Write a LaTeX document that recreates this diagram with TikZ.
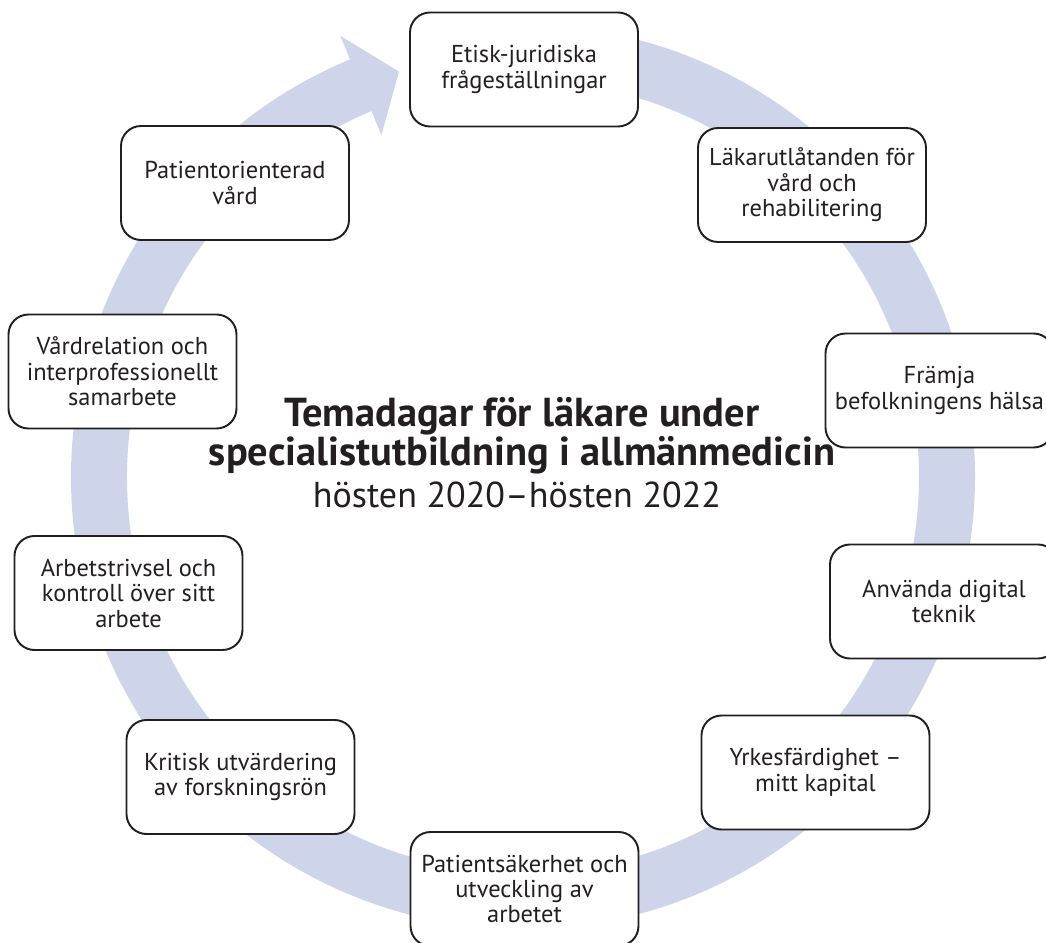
\documentclass[tikz,border=0pt]{standalone}
\usepackage{fontspec}
\setmainfont{PT Sans}
\definecolor{ringblue}{RGB}{206,213,234}
\definecolor{inkgray}{RGB}{35,31,32}

\begin{document}
\begin{tikzpicture}[
        tema/.style={draw=inkgray,line width=1.1pt,fill=white,rounded corners=0.4cm,
            minimum width=4.56cm,minimum height=2.28cm,inner sep=0pt,align=center,
            text=inkgray,font=\fontsize{13.9}{14.5}\selectfont}
    ]
        \useasboundingbox(-10.46,-9.3)rectangle(10.46,9.54);

        \draw[ringblue,line width=1.12cm](85:8.48)arc[start angle=85,end angle=-248,radius=8.48];
        \fill[ringblue](112.5:9.55)--(107:8.48)--(112.5:7.4)--cycle;

        \node[tema](etik)at(0.02,8.15){Etisk-juridiska\\frågeställningar};
        \node[tema](intyg)at(5.78,5.84){Läkarutlåtanden för\\vård och\\rehabilitering};
        \node[tema](halsa)at(8.33,1.73){Främja\\befolkningens hälsa};
        \node[tema](digital)at(8.42,-2.49){Använda digital\\teknik};
        \node[tema](yrke)at(5.85,-5.91){Yrkesfärdighet –\\mitt kapital};
        \node[tema](sakerhet)at(0.03,-8.24){Patientsäkerhet och\\utveckling av\\arbetet};
        \node[tema](kritisk)at(-5.65,-6.0){Kritisk utvärdering\\av forskningsrön};
        \node[tema](trivsel)at(-7.89,-2.32){Arbetstrivsel och\\kontroll över sitt\\arbete};
        \node[tema](relation)at(-8.01,2.11){Vårdrelation och\\interprofessionellt\\samarbete};
        \node[tema](patient)at(-5.76,5.88){Patientorienterad\\vård};

        \node[align=center,inner sep=0pt,text=inkgray,font=\fontsize{23}{22}\selectfont\bfseries](titel)at(-0.02,0.82){Temadagar för läkare under\\specialistutbildning i allmänmedicin};
        \node[anchor=base,inner sep=0pt,text=inkgray,font=\fontsize{20.5}{20}\selectfont](period)at(-0.12,-0.6){hösten 2020–hösten 2022};
\end{tikzpicture}
\end{document}
